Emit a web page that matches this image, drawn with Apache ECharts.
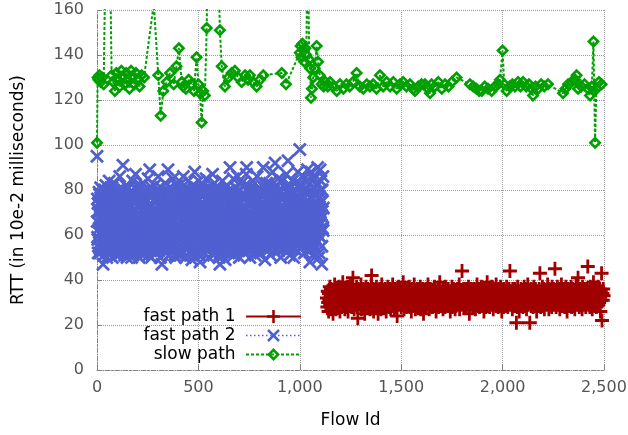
<!DOCTYPE html>
<html>
<head>
<meta charset="utf-8">
<script src="https://cdn.jsdelivr.net/npm/echarts@6/dist/echarts.min.js"></script>
<style>
    html, body { margin: 0; padding: 0; background: #fff; }
    #chart { width: 628px; height: 435px; }
</style>
</head>
<body>
<div id="chart"></div>
<script>
    // x ticks / y ticks
    const flowTicks = [0, 500, 1000, 1500, 2000, 2500];
    const rttTicks = [0, 20, 40, 60, 80, 100, 120, 140, 160];

    // fast path 1: one sample every 2 flow ids, starting at flow 1134
    const fast1Start = 1134;
    const fast1Step = 2;
    const fast1Rtt = [
        32, 28, 35, 30, 26, 34, 31, 37, 29, 33, 36, 27, 31, 34, 30, 25, 35, 32, 29, 38,
        31, 33, 27, 36, 30, 34, 28, 32, 35, 29, 37, 31, 26, 33, 30, 36, 28, 34, 31, 39,
        29, 33, 30, 35, 27, 32, 36, 31, 28, 34, 30, 37, 26, 33, 31, 35, 29, 32, 38, 30,
        34, 28, 31, 36, 41, 30, 33, 27, 35, 31, 29, 34, 32, 37, 28, 33, 23, 36, 30, 32,
        35, 29, 33, 31, 38, 27, 34, 30, 32, 36, 28, 33, 31, 25, 35, 30, 37, 29, 34, 31,
        32, 36, 28, 33, 30, 35, 27, 34, 31, 38, 42, 29, 33, 30, 36, 26, 32, 35, 31, 29,
        34, 30, 37, 28, 33, 31, 25, 35, 32, 29, 36, 30, 34, 27, 33, 38, 31, 29, 35, 32,
        28, 34, 31, 36, 30, 33, 26, 35, 29, 32, 37, 31, 34, 28, 33, 30, 36, 27, 32, 35,
        31, 29, 38, 33, 30, 34, 27, 32, 36, 31, 28, 35, 33, 24, 30, 34, 32, 37, 29, 33,
        36, 30, 32, 28, 35, 31, 34, 29, 39, 33, 27, 32, 30, 36, 31, 34, 28, 33, 35, 30,
        29, 34, 31, 37, 28, 33, 30, 35, 26, 32, 36, 31, 34, 29, 33, 38, 30, 32, 27, 35,
        31, 33, 29, 36, 30, 34, 28, 32, 35, 31, 37, 27, 33, 30, 34, 29, 36, 32, 25, 33,
        35, 30, 32, 28, 36, 31, 34, 29, 33, 38, 30, 35, 27, 32, 31, 36, 29, 34, 30, 33,
        28, 35, 31, 33, 30, 37, 29, 34, 32, 26, 35, 31, 33, 30, 36, 28, 34, 31, 39, 32,
        30, 34, 29, 35, 31, 33, 27, 36, 32, 30, 34, 28, 37, 31, 33, 29, 35, 32, 30, 36,
        33, 29, 34, 31, 26, 35, 32, 30, 37, 28, 33, 31, 36, 29, 34, 32, 27, 35, 30, 33,
        31, 36, 29, 34, 30, 32, 38, 27, 33, 31, 35, 30, 34, 44, 29, 33, 31, 36, 28, 32,
        35, 30, 33, 28, 36, 31, 34, 29, 32, 37, 30, 25, 35, 31, 33, 29, 36, 32, 30, 34,
        28, 33, 31, 36, 30, 34, 27, 32, 35, 31, 38, 29, 33, 30, 36, 32, 28, 34, 31, 35,
        30, 37, 32, 29, 34, 31, 33, 26, 36, 30, 35, 32, 28, 34, 31, 39, 29, 33, 30, 36,
        32, 28, 35, 31, 33, 30, 37, 29, 34, 31, 27, 36, 32, 30, 35, 33, 29, 38, 31, 34,
        30, 33, 28, 36, 31, 34, 29, 32, 37, 30, 33, 26, 35, 31, 34, 28, 36, 32, 30, 33,
        35, 29, 32, 37, 31, 34, 28, 33, 30, 36, 31, 44, 29, 35, 32, 30, 34, 27, 36, 33,
        31, 34, 29, 36, 32, 30, 35, 21, 33, 28, 37, 31, 34, 30, 26, 35, 32, 29, 36, 31,
        33, 30, 35, 28, 34, 31, 37, 29, 32, 36, 30, 34, 27, 33, 31, 38, 29, 35, 32, 30,
        21, 34, 31, 36, 29, 33, 30, 35, 28, 32, 37, 31, 34, 29, 36, 30, 33, 26, 35, 32,
        30, 34, 29, 36, 31, 43, 33, 28, 35, 30, 32, 37, 29, 34, 31, 36, 27, 33, 30, 35,
        32, 29, 34, 31, 38, 30, 33, 27, 36, 32, 29, 35, 31, 34, 28, 37, 30, 33, 31, 36,
        29, 34, 45, 31, 35, 28, 33, 30, 37, 32, 29, 36, 31, 34, 27, 35, 30, 33, 38, 31,
        34, 29, 32, 36, 30, 33, 28, 35, 31, 37, 30, 34, 26, 33, 31, 36, 29, 32, 35, 30,
        33, 31, 37, 28, 34, 30, 36, 29, 32, 35, 31, 27, 34, 30, 38, 32, 29, 35, 31, 41,
        30, 34, 28, 36, 32, 29, 35, 31, 33, 27, 37, 30, 34, 32, 29, 36, 31, 33, 28, 35,
        31, 36, 30, 46, 33, 29, 35, 32, 28, 37, 31, 34, 30, 36, 27, 33, 31, 39, 29, 34,
        32, 36, 30, 34, 28, 35, 31, 33, 37, 29, 34, 30, 36, 32, 26, 35, 31, 43, 22, 34,
        31, 36, 33
    ];

    // fast path 2: even flow ids 0, 2, 4, ... 1116
    const fast2RttEven = [
        95, 76, 58, 52, 70, 79, 61, 54, 73, 81, 56, 67, 78, 53, 64, 47, 75, 51, 62, 80,
        57, 69, 82, 60, 50, 74, 63, 77, 55, 68, 84, 59, 71, 52, 79, 66, 56, 81, 50, 72,
        75, 58, 65, 83, 54, 70, 61, 78, 51, 67, 76, 57, 80, 53, 72, 62, 86, 55, 69, 52,
        78, 60, 73, 54, 91, 65, 80, 57, 51, 74, 63, 82, 58, 70, 50, 77, 62, 56, 81, 68,
        53, 72, 59, 79, 66, 50, 76, 58, 84, 61, 71, 54, 78, 57, 67, 87, 52, 75, 60, 73,
        64, 80, 55, 69, 50, 77, 59, 82, 53, 71, 57, 79, 66, 51, 83, 62, 74, 52, 76, 58,
        70, 79, 53, 63, 75, 56, 85, 51, 72, 60, 89, 57, 77, 65, 50, 81, 59, 73, 55, 78,
        61, 54, 82, 67, 57, 75, 52, 70, 80, 56, 64, 86, 53, 73, 60, 78, 50, 68, 81, 55,
        47, 71, 59, 78, 54, 66, 76, 57, 83, 62, 52, 74, 64, 80, 56, 89, 68, 51, 77, 60,
        73, 55, 81, 63, 52, 70, 58, 85, 66, 56, 79, 51, 69, 75, 50, 62, 82, 57, 72, 54,
        77, 64, 55, 80, 68, 51, 74, 58, 83, 61, 76, 53, 67, 86, 56, 79, 60, 71, 50, 81,
        58, 69, 78, 54, 63, 84, 60, 73, 52, 80, 66, 56, 75, 62, 49, 70, 82, 55, 68, 59,
        79, 88, 53, 67, 76, 57, 81, 64, 54, 72, 60, 84, 51, 70, 48, 78, 62, 55, 80, 65,
        56, 73, 82, 60, 52, 68, 79, 55, 66, 85, 61, 75, 53, 71, 58, 81, 50, 69, 77, 63,
        54, 80, 62, 71, 57, 87, 65, 51, 76, 59, 83, 55, 72, 64, 79, 53, 68, 58, 81, 61,
        72, 50, 77, 47, 66, 80, 56, 73, 62, 84, 53, 69, 78, 57, 64, 75, 49, 81, 60, 70,
        55, 82, 66, 58, 76, 52, 73, 61, 90, 68, 56, 79, 54, 70, 78, 59, 85, 51, 74, 63,
        58, 72, 81, 53, 67, 77, 60, 86, 55, 69, 80, 50, 71, 62, 75, 57, 83, 64, 54, 78,
        66, 59, 76, 52, 71, 82, 56, 68, 87, 90, 61, 74, 53, 79, 63, 57, 70, 50, 81, 65,
        75, 55, 69, 61, 84, 54, 72, 79, 58, 66, 51, 77, 63, 74, 56, 86, 68, 53, 80, 60,
        70, 62, 78, 52, 74, 65, 56, 82, 60, 71, 90, 55, 79, 64, 49, 76, 61, 69, 83, 57,
        68, 80, 54, 75, 63, 58, 83, 70, 51, 78, 61, 72, 56, 88, 65, 77, 53, 81, 60, 92,
        73, 57, 82, 66, 55, 79, 62, 85, 53, 70, 80, 59, 68, 50, 76, 64, 56, 84, 72, 61,
        78, 54, 67, 81, 58, 74, 69, 87, 56, 64, 79, 93, 55, 76, 68, 51, 82, 62, 73, 59,
        75, 65, 84, 57, 70, 50, 79, 63, 58, 83, 71, 61, 77, 53, 68, 88, 60, 76, 66, 81,
        98, 58, 75, 68, 82, 55, 78, 63, 86, 60, 70, 52, 80, 65, 74, 56, 84, 62, 72, 89,
        64, 79, 56, 73, 83, 48, 70, 61, 88, 58, 76, 67, 51, 81, 63, 74, 85, 60, 54, 78,
        67, 82, 57, 71, 90, 62, 76, 50, 79, 65, 89, 59, 84, 69, 47, 80, 63, 86, 72
    ];

    // fast path 2: odd flow ids 1, 3, 5, ... 1115
    const fast2RttOdd = [
        66, 59, 74, 55, 71, 63, 78, 52, 68, 61, 75, 57, 70, 64, 80, 54, 67, 72, 58, 76,
        62, 69, 53, 77, 65, 60, 73, 56, 79, 63, 68, 51, 74, 66, 58, 71, 61, 76, 55, 70,
        64, 57, 78, 62, 69, 54, 72, 66, 59, 75, 52, 67, 63, 80, 58, 71, 65, 56, 74, 61,
        68, 53, 76, 60, 70, 64, 57, 79, 62, 73, 55, 67, 71, 59, 65, 77, 52, 69, 63, 74,
        58, 72, 65, 54, 78, 61, 68, 75, 56, 63, 70, 59, 81, 66, 53, 71, 64, 76, 60, 67,
        73, 56, 69, 62, 77, 58, 66, 52, 74, 64, 71, 60, 79, 55, 68, 63, 75, 57, 70, 65,
        61, 76, 54, 67, 72, 59, 64, 80, 57, 70, 62, 74, 53, 68, 66, 78, 60, 71, 56, 63,
        69, 58, 75, 63, 52, 71, 66, 60, 77, 55, 73, 62, 68, 57, 79, 64, 70, 54, 67, 74,
        60, 72, 56, 78, 65, 61, 69, 53, 75, 63, 58, 71, 66, 80, 59, 73, 62, 68, 55, 76,
        64, 70, 57, 74, 61, 67, 79, 54, 72, 60, 66, 76, 58, 69, 63, 52, 77, 65, 71, 59,
        73, 62, 68, 55, 78, 64, 59, 71, 66, 53, 75, 61, 70, 57, 80, 63, 67, 74, 56, 69,
        58, 76, 63, 70, 54, 72, 65, 60, 78, 56, 68, 73, 62, 66, 51, 74, 59, 71, 64, 77,
        67, 55, 73, 61, 79, 58, 70, 64, 53, 75, 62, 69, 57, 72, 66, 60, 81, 63, 56, 71,
        74, 59, 66, 78, 62, 54, 70, 67, 58, 76, 63, 71, 55, 68, 73, 60, 65, 79, 57, 69,
        61, 75, 56, 72, 64, 69, 58, 80, 62, 67, 53, 74, 66, 59, 71, 63, 77, 55, 70, 65,
        68, 57, 73, 60, 76, 63, 54, 71, 66, 79, 58, 69, 62, 75, 56, 72, 64, 52, 78, 61,
        70, 63, 58, 74, 67, 55, 77, 62, 69, 60, 73, 57, 80, 65, 59, 71, 54, 76, 64, 68,
        56, 72, 66, 61, 79, 58, 70, 64, 75, 53, 68, 62, 74, 59, 71, 67, 57, 78, 63, 69,
        73, 60, 65, 77, 55, 69, 62, 72, 58, 80, 64, 67, 54, 75, 61, 70, 66, 57, 79, 63,
        59, 74, 68, 56, 71, 64, 78, 61, 66, 53, 73, 60, 70, 57, 76, 65, 62, 69, 55, 72,
        67, 79, 58, 63, 74, 60, 69, 55, 77, 65, 71, 59, 64, 81, 56, 72, 62, 68, 75, 61,
        64, 57, 72, 66, 60, 78, 54, 70, 63, 75, 58, 68, 73, 61, 66, 55, 79, 62, 71, 69,
        58, 76, 63, 71, 56, 67, 74, 60, 80, 65, 59, 72, 62, 69, 54, 77, 66, 61, 73, 57,
        70, 62, 78, 55, 68, 64, 75, 59, 71, 66, 57, 80, 63, 69, 61, 74, 56, 72, 67, 60,
        76, 63, 58, 73, 67, 54, 79, 62, 70, 65, 60, 75, 57, 71, 68, 82, 59, 66, 73, 61,
        69, 57, 74, 64, 78, 60, 71, 66, 55, 77, 62, 72, 59, 68, 80, 63, 56, 75, 67, 84,
        62, 73, 66, 58, 79, 53, 70, 64, 76, 60, 72, 57, 81, 65, 69, 55, 78, 63, 71, 58,
        74, 61, 68, 83, 57, 72, 64, 52, 77, 66, 70, 59, 80, 63, 55, 75, 68, 62
    ];

    // slow path: sparse samples, values above 160 run off the top of the plot
    const slowFlow = [
        0, 3, 7, 12, 18, 25, 33, 44, 62, 72, 80, 88, 96, 104, 112, 120, 128, 136, 144, 152,
        160, 168, 176, 184, 192, 200, 210, 220, 232, 280, 302, 314, 327, 344, 360, 378, 392, 404, 418, 425,
        438, 452, 466, 478, 491, 500, 508, 516, 524, 532, 541, 548, 570, 592, 606, 615, 631, 648, 664, 680,
        696, 713, 730, 745, 754, 770, 787, 803, 820, 911, 932, 1000, 1004, 1008, 1013, 1018, 1022, 1027, 1032, 1040,
        1046, 1051, 1055, 1060, 1066, 1074, 1083, 1090, 1098, 1108, 1118, 1126, 1138, 1149, 1165, 1182, 1198, 1215, 1230, 1246,
        1262, 1280, 1296, 1313, 1330, 1346, 1362, 1378, 1395, 1411, 1428, 1445, 1461, 1478, 1494, 1510, 1526, 1543, 1559, 1568,
        1584, 1600, 1617, 1632, 1642, 1650, 1666, 1683, 1700, 1716, 1733, 1750, 1773, 1839, 1855, 1871, 1884, 1897, 1912, 1928,
        1946, 1962, 1978, 1987, 2000, 2008, 2020, 2034, 2048, 2061, 2076, 2088, 2101, 2116, 2130, 2143, 2150, 2162, 2175, 2190,
        2205, 2224, 2298, 2310, 2323, 2340, 2358, 2365, 2372, 2388, 2404, 2421, 2431, 2440, 2448, 2452, 2456, 2462, 2475, 2488
    ];
    const slowRtt = [
        101, 130, 129, 131, 128, 130, 127, 200, 200, 131, 128, 124, 132, 129, 126, 133, 130, 127, 132, 129,
        125, 133, 130, 127, 132, 129, 126, 131, 130, 163, 131, 113, 124, 128, 132, 127, 135, 143, 128, 126,
        125, 129, 127, 124, 139, 127, 123, 110, 124, 122, 152, 200, 200, 200, 151, 135, 126, 130, 132, 133,
        130, 128, 131, 129, 131, 128, 126, 129, 131, 132, 127, 141, 144, 139, 145, 142, 137, 143, 140, 200,
        138, 134, 121, 125, 130, 134, 144, 137, 131, 127, 126, 128, 126, 128, 126, 124, 127, 125, 127, 126,
        128, 132, 126, 125, 127, 126, 127, 125, 131, 126, 128, 126, 128, 125, 127, 128, 126, 127, 125, 124,
        126, 127, 127, 125, 123, 127, 126, 128, 125, 127, 126, 128, 130, 127, 126, 125, 124, 124, 126, 125,
        124, 126, 127, 129, 142, 127, 124, 126, 127, 126, 128, 126, 128, 126, 127, 125, 122, 126, 125, 127,
        126, 127, 123, 125, 127, 128, 129, 131, 125, 126, 127, 125, 122, 126, 146, 124, 101, 125, 128, 127
    ];

    const FONT = 'DejaVu Sans';
    const RED = '#a00000';
    const BLUE = '#5060d0';
    const GREEN = '#00a000';

    // marker shapes (filled outlines so the stroke scales with the symbol)
    const PLUS = 'path://M4,0H6V4H10V6H6V10H4V6H0V4H4Z';
    const CROSS = 'path://M0,1.4L1.4,0L10,8.6L8.6,10ZM8.6,0L10,1.4L1.4,10L0,8.6Z';
    const DIAMOND = 'path://M5,0L10,5L5,10L0,5ZM5,2.9L2.9,5L5,7.1L7.1,5Z';

    const fast1Data = fast1Rtt.map((v, i) => [fast1Start + i * fast1Step, v]);
    const fast2Data = fast2RttEven.map((v, i) => [2 * i, v])
        .concat(fast2RttOdd.map((v, i) => [2 * i + 1, v]));
    const slowData = slowFlow.map((f, i) => [f, slowRtt[i]]);

    const gridLine = { color: '#9a9a9a', width: 1, type: [1, 1] };
    const borderLine = { color: '#808080', width: 1, type: [4, 2, 1, 2] };

    const chart = echarts.init(document.getElementById('chart'), null, { renderer: 'canvas' });
    chart.setOption({
        animation: false,
        textStyle: { fontFamily: FONT },
        grid: {
            left: 97,
            right: 24,
            top: 10,
            bottom: 65,
            containLabel: false,
            outerBoundsMode: 'none'
        },
        legend: {
            orient: 'vertical',
            align: 'right',
            right: 326,
            top: 308,
            padding: 0,
            itemWidth: 55,
            itemHeight: 16,
            itemGap: 2,
            selectedMode: false,
            formatter: name => name + ' ',
            textStyle: { fontFamily: FONT, fontSize: 17, color: '#000' },
            data: [
                { name: 'fast path 1', lineStyle: { width: 2, type: 'solid', color: RED, opacity: 1 } },
                { name: 'fast path 2', lineStyle: { width: 1.5, type: [1.5, 2.5], color: BLUE, opacity: 1 } },
                { name: 'slow path', lineStyle: { width: 2, type: [3, 2], color: GREEN, opacity: 1 } }
            ]
        },
        xAxis: {
            type: 'value',
            min: flowTicks[0],
            max: flowTicks[flowTicks.length - 1],
            interval: flowTicks[1] - flowTicks[0],
            name: 'Flow Id',
            nameLocation: 'middle',
            nameGap: 42,
            nameMoveOverlap: false,
            nameTextStyle: { fontFamily: FONT, fontSize: 17, color: '#000' },
            axisLine: { show: true, lineStyle: borderLine },
            axisTick: { show: true, inside: true, length: 5, lineStyle: { color: '#808080' } },
            axisLabel: { fontFamily: FONT, fontSize: 16, color: '#555', margin: 10 },
            splitLine: { show: true, lineStyle: gridLine }
        },
        yAxis: {
            type: 'value',
            min: rttTicks[0],
            max: rttTicks[rttTicks.length - 1],
            interval: rttTicks[1] - rttTicks[0],
            name: 'RTT (in 10e-2 milliseconds)',
            nameLocation: 'middle',
            nameGap: 70,
            nameMoveOverlap: false,
            nameTextStyle: { fontFamily: FONT, fontSize: 17, color: '#000' },
            axisLine: { show: true, lineStyle: borderLine },
            axisTick: { show: true, inside: true, length: 5, lineStyle: { color: '#808080' } },
            axisLabel: { fontFamily: FONT, fontSize: 16, color: '#555', margin: 13 },
            splitLine: { show: true, lineStyle: gridLine }
        },
        series: [
            {
                name: 'fast path 1',
                type: 'line',
                data: fast1Data,
                color: RED,
                symbol: PLUS,
                symbolSize: 14,
                showSymbol: true,
                showAllSymbol: true,
                lineStyle: { width: 0, color: RED },
                itemStyle: { color: RED, borderWidth: 0 },
                silent: true,
                z: 2
            },
            {
                name: 'fast path 2',
                type: 'line',
                data: fast2Data,
                color: BLUE,
                symbol: CROSS,
                symbolSize: 14,
                showSymbol: true,
                showAllSymbol: true,
                lineStyle: { width: 0, color: BLUE },
                itemStyle: { color: BLUE, borderWidth: 0 },
                silent: true,
                z: 3
            },
            {
                name: 'slow path',
                type: 'line',
                data: slowData,
                color: GREEN,
                symbol: DIAMOND,
                symbolSize: 13,
                showSymbol: true,
                showAllSymbol: true,
                lineStyle: { width: 2, type: [3, 2], color: GREEN },
                itemStyle: { color: GREEN, borderWidth: 0 },
                silent: true,
                z: 4
            }
        ]
    });
</script>
</body>
</html>
